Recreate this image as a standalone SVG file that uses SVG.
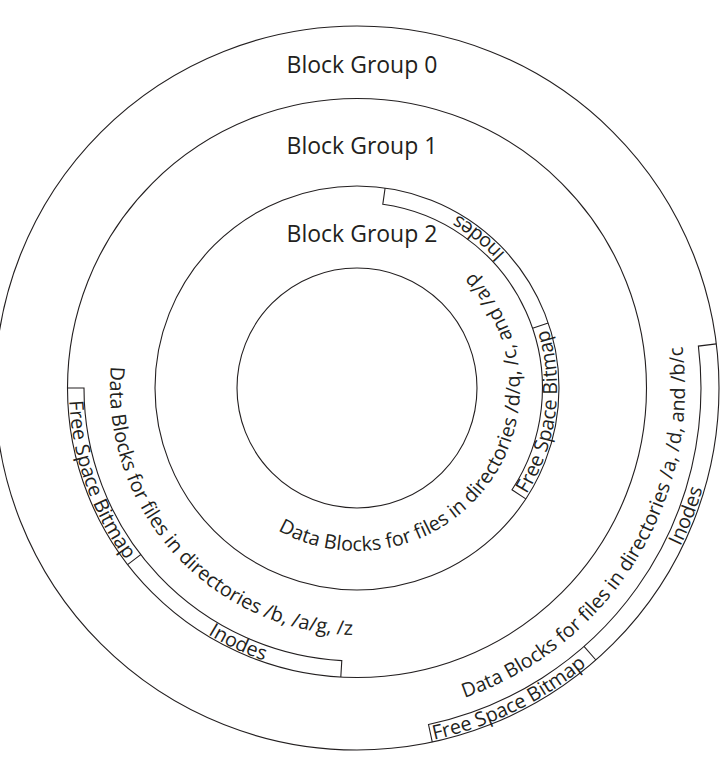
<svg xmlns="http://www.w3.org/2000/svg" width="724" height="758" viewBox="0 0 724 758">
<style>
.c{fill:none;stroke:#231f20;stroke-width:1.1}
.t{font-family:"Open Sans","Liberation Sans",sans-serif;fill:#231f20;text-anchor:middle}
.lbl{font-size:23px}
.arc{font-size:19.8px}
</style>
<defs>
<path id="p-r2-data" d="M237.79,499.17 A163,163 0 1 0 431.00,242.77"/>
<path id="p-r2-free" d="M296.86,578.74 A200,200 0 1 0 348.28,188.19"/>
<path id="p-r2-inodes" d="M488.21,538.94 A200,200 0 1 0 182.08,291.04"/>
<path id="p-r1-data" d="M226.11,178.53 A247,247 0 1 0 551.64,540.07"/>
<path id="p-r1-free" d="M308.97,104.03 A288,288 0 1 0 499.25,638.41"/>
<path id="p-r1-inodes" d="M121.08,222.81 A288,288 0 1 0 635.19,462.54"/>
<path id="p-r0-data" d="M138.38,632.52 A328,328 0 1 0 478.81,83.46"/>
<path id="p-r0-inodes" d="M170.51,695.93 A360,360 0 1 0 426.92,34.85"/>
<path id="p-r0-free" d="M10.95,487.23 A360,360 0 1 0 648.25,176.40"/>
</defs>
<rect width="724" height="758" fill="#ffffff"/>
<g id="block-group-0">
<circle class="c" cx="357" cy="388" r="362"/>
<path class="c" d="M432.3,742.1 L428.5,724.5 A344,344 0 0 0 698.4,346.1 L716.3,343.9 M584.0,646.4 L595.9,660.0"/>
<text class="t lbl" x="362" y="73">Block Group 0</text>
<text class="t arc"><textPath href="#p-r0-data" startOffset="50%">Data Blocks for files in directories /a, /d, and /b/c</textPath></text>
<text class="t arc"><textPath href="#p-r0-inodes" startOffset="50%">Inodes</textPath></text>
<text class="t arc"><textPath href="#p-r0-free" startOffset="50%">Free Space Bitmap</textPath></text>
</g>
<g id="block-group-1">
<circle class="c" cx="357" cy="388" r="289.5"/>
<path class="c" d="M67.5,388 L84,388 A273,273 0 0 0 341.8,660.6 L340.8,677.0 M140.7,554.6 L127.6,564.6"/>
<text class="t lbl" x="362" y="154">Block Group 1</text>
<text class="t arc"><textPath href="#p-r1-data" startOffset="50%">Data Blocks for files in directories /b, /a/g, /z</textPath></text>
<text class="t arc"><textPath href="#p-r1-inodes" startOffset="50%">Inodes</textPath></text>
<text class="t arc"><textPath href="#p-r1-free" startOffset="50%">Free Space Bitmap</textPath></text>
</g>
<g id="block-group-2">
<circle class="c" cx="357" cy="388" r="202"/>
<path class="c" d="M385.1,188.0 L382.8,204.3 A185.5,185.5 0 0 1 512.0,489.8 L525.8,498.9 M532.6,328.2 L548.2,322.9"/>
<text class="t lbl" x="362" y="242">Block Group 2</text>
<text class="t arc"><textPath href="#p-r2-data" startOffset="50%">Data Blocks for files in directories /d/q, /c, and /a/p</textPath></text>
<text class="t arc"><textPath href="#p-r2-inodes" startOffset="50%">Inodes</textPath></text>
<text class="t arc"><textPath href="#p-r2-free" startOffset="50%">Free Space Bitmap</textPath></text>
</g>
<g id="core">
<circle class="c" cx="357" cy="388" r="120"/>
</g>
</svg>
